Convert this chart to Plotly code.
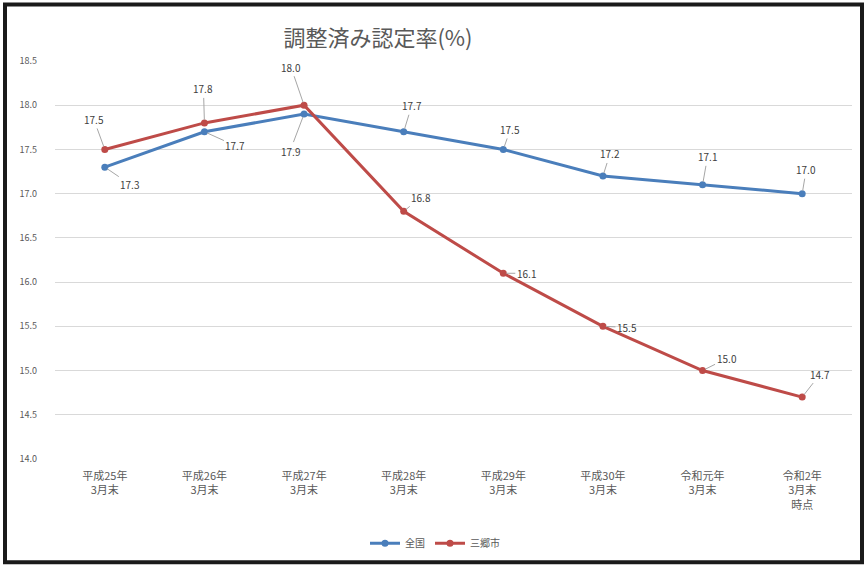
import plotly.graph_objects as go

# Categories (end of March each fiscal year)
categories = [
    "平成25年<br>3月末", "平成26年<br>3月末", "平成27年<br>3月末", "平成28年<br>3月末",
    "平成29年<br>3月末", "平成30年<br>3月末", "令和元年<br>3月末", "令和2年<br>3月末<br>時点",
]
national = [17.3, 17.7, 17.9, 17.7, 17.5, 17.2, 17.1, 17.0]
city = [17.5, 17.8, 18.0, 16.8, 16.1, 15.5, 15.0, 14.7]
series_names = ["全国", "三郷市"]
y_ticks = [14.0, 14.5, 15.0, 15.5, 16.0, 16.5, 17.0, 17.5, 18.0, 18.5]

# Pixel offsets of the data labels from their points
national_offsets = [(25, 17), (31, 14), (-14, 37), (8, -26), (7, -20), (7, -22), (5, -28), (4, -24)]
city_offsets = [(-11, -30), (-1, -34), (-13, -38), (17, -14), (23, 0), (24, 1), (24, -12), (18, -23)]

BLUE = "#4A7EBB"
RED = "#BE4B48"
TEXT = "#595959"
FONT = "Noto Sans CJK JP"

W, H = 865, 570
ML, MR, MT, MB = 55, 13, 61, 108
PW, PH = W - ML - MR, H - MT - MB

fig = go.Figure()
for name, vals, col in [(series_names[0], national, BLUE), (series_names[1], city, RED)]:
    fig.add_trace(go.Scatter(
        x=list(range(len(categories))), y=vals, name=name, mode="lines+markers",
        line=dict(color=col, width=3),
        marker=dict(color=col, size=7, symbol="circle"),
    ))

annotations = []
for vals, offs in [(national, national_offsets), (city, city_offsets)]:
    for i, (v, (ax, ay)) in enumerate(zip(vals, offs)):
        annotations.append(dict(
            x=i, y=v, xref="x", yref="y", text=f"{v:.1f}",
            showarrow=True, arrowhead=0, arrowwidth=1, arrowcolor="#a6a6a6",
            ax=ax, ay=ay, standoff=3,
            font=dict(family=FONT, size=10, color="#404040"),
        ))

# Outer black frame around the whole chart, in paper coordinates
def px_x(p):
    return (p - ML) / PW

def px_y(p):
    return (H - MB - p) / PH

shapes = [dict(
    type="rect", xref="paper", yref="paper",
    x0=px_x(5), x1=px_x(862), y0=px_y(566), y1=px_y(4),
    line=dict(color="#1a1a1a", width=4), layer="above",
)]

fig.update_layout(
    width=W, height=H,
    margin=dict(l=ML, r=MR, t=MT, b=MB),
    paper_bgcolor="white", plot_bgcolor="white",
    title=dict(
        text="調整済み認定率(%)", xref="container", x=378 / W, xanchor="center",
        yref="container", y=(H - 38) / H, yanchor="middle",
        font=dict(family=FONT, size=22, color=TEXT),
    ),
    xaxis=dict(
        tickmode="array", tickvals=list(range(len(categories))), ticktext=categories,
        range=[-0.5, len(categories) - 0.5],
        showgrid=False, zeroline=False, showline=False,
        tickfont=dict(family=FONT, size=11, color=TEXT), ticklabelstandoff=9,
    ),
    yaxis=dict(
        range=[14.0, 18.5], tickmode="array", tickvals=y_ticks,
        ticktext=[f"{t:.1f}" for t in y_ticks],
        showgrid=True, gridcolor="#d9d9d9", gridwidth=1, zeroline=False,
        tickfont=dict(family=FONT, size=9, color=TEXT), ticklabelstandoff=17,
    ),
    legend=dict(
        orientation="h", x=px_x(435), xanchor="center", y=px_y(547), yanchor="middle",
        font=dict(family=FONT, size=10, color=TEXT),
    ),
    annotations=annotations,
    shapes=shapes,
    showlegend=True,
)

fig.write_html("out.html")
